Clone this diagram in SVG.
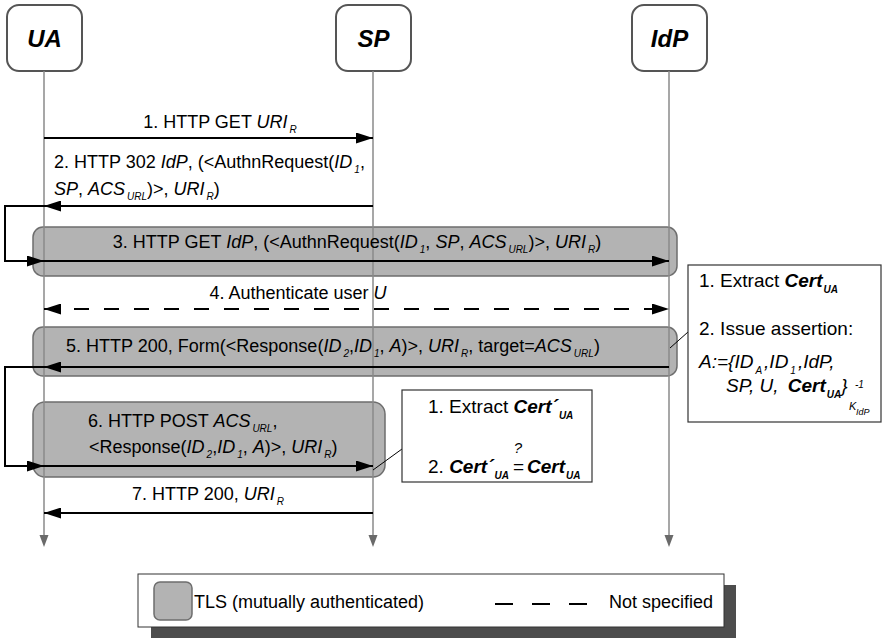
<svg xmlns="http://www.w3.org/2000/svg" width="882" height="638" viewBox="0 0 882 638">
<defs>
<style>
text { font-family: "Liberation Sans", Arial, sans-serif; font-size: 18px; fill: #000; }
.node { fill: #fff; stroke: #555; stroke-width: 2; }
.nlabel { font-size: 24px; font-weight: bold; font-style: italic; text-anchor: middle; }
.life { stroke: #8a8a8a; stroke-width: 1.5; fill: none; }
.lhead { fill: #6a6a6a; }
.tls { fill: #b3b3b3; stroke: #6e6e6e; stroke-width: 1.5; }
.msg { stroke: #000; stroke-width: 2; fill: none; }
.dash { stroke-dasharray: 15 15; }
.i { font-style: italic; }
.b { font-weight: bold; font-style: italic; }
.s { font-size: 10px; font-style: italic; }
.nt { font-size: 19px; }
.note { fill: #fff; stroke: #333; stroke-width: 1.2; }
.thin { stroke: #000; stroke-width: 1; fill: none; }
.mid { text-anchor: middle; }
</style>
<marker id="ah" viewBox="0 0 17 11" refX="17" refY="5.5" markerWidth="17" markerHeight="11" markerUnits="userSpaceOnUse" orient="auto-start-reverse">
<path d="M0,0 L17,5.5 L0,11 z" fill="#000"/>
</marker>
</defs>

<g id="tls-boxes">
<rect id="tls3" class="tls" x="33" y="227" width="644" height="49" rx="10"/>
<rect id="tls5" class="tls" x="33" y="327" width="644" height="49" rx="10"/>
<rect id="tls6" class="tls" x="33" y="402" width="352" height="75" rx="12"/>
</g>

<g id="UA">
<rect class="node" x="7" y="5" width="75" height="66" rx="12"/>
<text class="nlabel" x="44.5" y="47">UA</text>
<line class="life" x1="44" y1="71" x2="44" y2="537"/>
<polygon class="lhead" points="39.5,535 48.5,535 44,547"/>
</g>
<g id="SP">
<rect class="node" x="336" y="5" width="75" height="66" rx="12"/>
<text class="nlabel" x="373.5" y="47">SP</text>
<line class="life" x1="373" y1="71" x2="373" y2="537"/>
<polygon class="lhead" points="368.5,535 377.5,535 373,547"/>
</g>
<g id="IdP">
<rect class="node" x="632" y="5" width="75" height="66" rx="12"/>
<text class="nlabel" x="669.5" y="47">IdP</text>
<line class="life" x1="669" y1="71" x2="669" y2="537"/>
<polygon class="lhead" points="664.5,535 673.5,535 669,547"/>
</g>

<g id="connectors">
<line class="msg" x1="44" y1="138" x2="373" y2="138" marker-end="url(#ah)"/>
<line class="msg" x1="373" y1="206" x2="44" y2="206" marker-end="url(#ah)"/>
<polyline class="msg" points="44,206 5,206 5,261 44,261" marker-end="url(#ah)"/>
<line class="msg" x1="44" y1="261" x2="669" y2="261" marker-end="url(#ah)"/>
<line class="msg dash" x1="44" y1="309" x2="669" y2="309" marker-start="url(#ah)" marker-end="url(#ah)"/>
<line class="msg" x1="669" y1="367" x2="44" y2="367" marker-end="url(#ah)"/>
<polyline class="msg" points="44,367 5,367 5,466 44,466" marker-end="url(#ah)"/>
<line class="msg" x1="44" y1="466" x2="373" y2="466" marker-end="url(#ah)"/>
<line class="msg" x1="373" y1="513" x2="44" y2="513" marker-end="url(#ah)"/>
<line class="thin" x1="670" y1="348" x2="688" y2="332"/>
<line class="thin" x1="373" y1="470" x2="402" y2="449"/>
</g>

<g id="labels">
<text class="mid" x="220" y="128">1. HTTP GET <tspan class="i">URI</tspan><tspan class="s" dx="2" dy="5">R</tspan></text>
<text x="54" y="168">2. HTTP 302 <tspan class="i">IdP</tspan>, (&lt;AuthnRequest(<tspan class="i">ID</tspan><tspan class="s" dx="2" dy="5">1</tspan><tspan dy="-5">,</tspan></text>
<text x="54" y="195"><tspan class="i">SP</tspan>, <tspan class="i">ACS</tspan><tspan class="s" dx="2" dy="5">URL</tspan><tspan dy="-5">)&gt;, </tspan><tspan class="i">URI</tspan><tspan class="s" dx="2" dy="5">R</tspan><tspan dy="-5">)</tspan></text>
<text class="mid" x="357" y="248">3. HTTP GET <tspan class="i">IdP</tspan>, (&lt;AuthnRequest(<tspan class="i">ID</tspan><tspan class="s" dx="2" dy="5">1</tspan><tspan dy="-5">, </tspan><tspan class="i">SP</tspan>, <tspan class="i">ACS</tspan><tspan class="s" dx="2" dy="5">URL</tspan><tspan dy="-5">)&gt;, </tspan><tspan class="i">URI</tspan><tspan class="s" dx="2" dy="5">R</tspan><tspan dy="-5">)</tspan></text>
<text class="mid" x="298" y="299">4. Authenticate user <tspan class="i">U</tspan></text>
<text class="mid" x="333" y="352">5. HTTP 200, Form(&lt;Response(<tspan class="i">ID</tspan><tspan class="s" dx="2" dy="5">2</tspan><tspan dy="-5">,</tspan><tspan class="i">ID</tspan><tspan class="s" dx="2" dy="5">1</tspan><tspan dy="-5">, </tspan><tspan class="i">A</tspan>)&gt;, <tspan class="i">URI</tspan><tspan class="s" dx="2" dy="5">R</tspan><tspan dy="-5">, target=</tspan><tspan class="i">ACS</tspan><tspan class="s" dx="2" dy="5">URL</tspan><tspan dy="-5">)</tspan></text>
<text x="88" y="427">6. HTTP POST <tspan class="i">ACS</tspan><tspan class="s" dx="2" dy="5">URL</tspan><tspan dy="-5">,</tspan></text>
<text x="89" y="453">&lt;Response(<tspan class="i">ID</tspan><tspan class="s" dx="2" dy="5">2</tspan><tspan dy="-5">,</tspan><tspan class="i">ID</tspan><tspan class="s" dx="2" dy="5">1</tspan><tspan dy="-5">, </tspan><tspan class="i">A</tspan>)&gt;, <tspan class="i">URI</tspan><tspan class="s" dx="2" dy="5">R</tspan><tspan dy="-5">)</tspan></text>
<text class="mid" x="208" y="500">7. HTTP 200, <tspan class="i">URI</tspan><tspan class="s" dx="2" dy="5">R</tspan></text>
</g>

<g id="sp-check">
<rect class="note" x="402" y="390" width="190" height="92"/>
<text class="nt" x="428" y="413">1. Extract <tspan class="b">Cert´</tspan><tspan class="s b" dx="1" dy="6">UA</tspan></text>
<text class="nt" x="428" y="473">2. <tspan class="b">Cert´</tspan><tspan class="s b" dx="1" dy="6">UA</tspan><tspan dy="-6" dx="4">=</tspan><tspan class="b" dx="3">Cert</tspan><tspan class="s b" dx="1" dy="6">UA</tspan></text>
<text class="i mid" x="518" y="453" style="font-size:15px">?</text>
</g>

<g id="idp-note">
<rect class="note" x="688" y="265" width="193" height="157"/>
<text class="nt" x="699" y="287">1. Extract <tspan class="b">Cert</tspan><tspan class="s b" dx="1" dy="6">UA</tspan></text>
<text class="nt" x="699" y="335">2. Issue assertion:</text>
<text class="i nt" x="699" y="368">A:={ID<tspan class="s" dx="2" dy="6">A</tspan><tspan dx="2" dy="-6">,ID</tspan><tspan class="s" dx="2" dy="6">1</tspan><tspan dx="2" dy="-6">,IdP,</tspan></text>
<text class="i nt" x="726" y="392">SP, U, <tspan class="b" dx="4">Cert</tspan><tspan class="s b" dx="1" dy="6">UA</tspan><tspan dy="-6">}</tspan></text>
<text class="i" x="849" y="410" style="font-size:11px">K</text>
<text class="i" x="856" y="415" style="font-size:9px">IdP</text>
<text class="i" x="855" y="388" style="font-size:10px">-1</text>
</g>

<g id="legend">
<rect x="151" y="585" width="585" height="53" fill="#4d4d4d"/>
<rect x="138" y="574" width="586" height="53" fill="#fff" stroke="#333" stroke-width="1"/>
<rect class="tls" x="154" y="582" width="38" height="38" rx="6"/>
<text x="194" y="608">TLS (mutually authenticated)</text>
<line x1="495" y1="604" x2="588" y2="604" stroke="#000" stroke-width="2" stroke-dasharray="18 19"/>
<text x="609" y="608">Not specified</text>
</g>
</svg>
